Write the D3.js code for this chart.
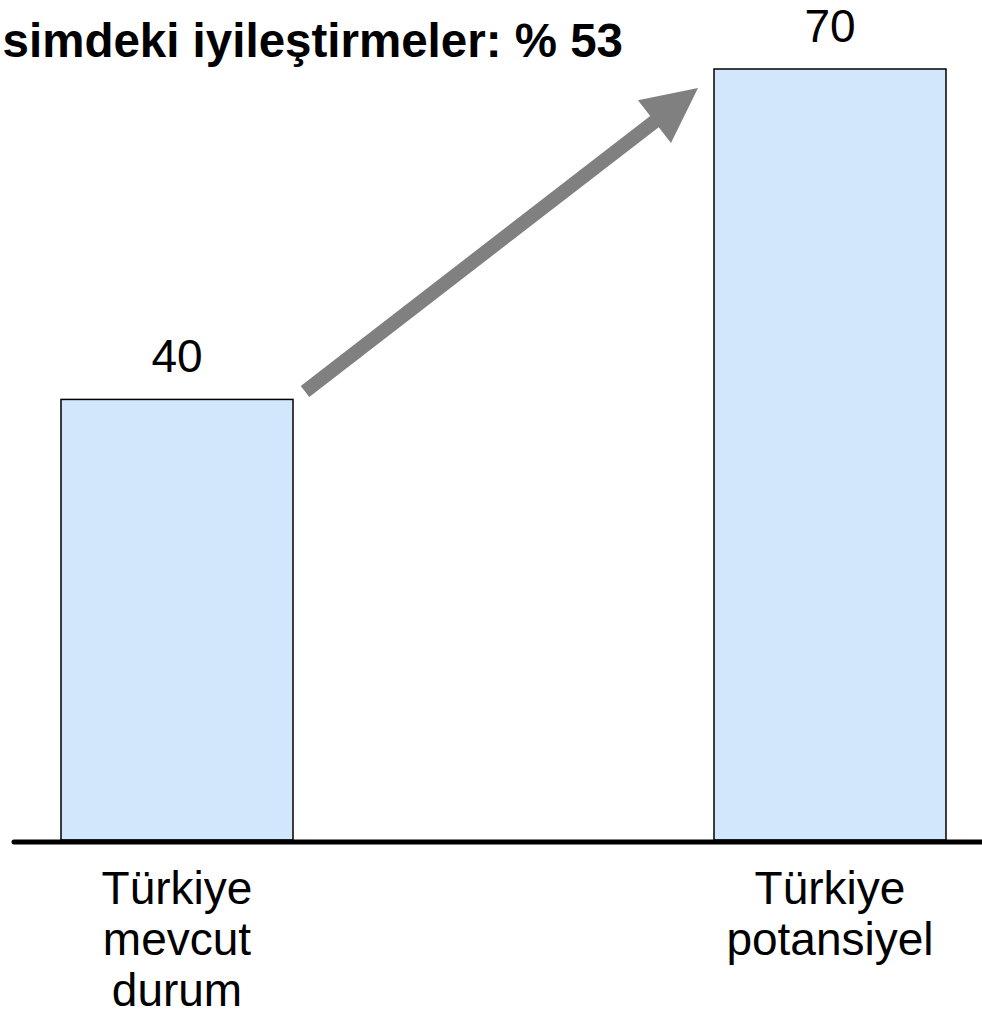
<!DOCTYPE html>
<html><head><meta charset="utf-8">
<script src="https://cdn.jsdelivr.net/npm/d3@7"></script>
<style>html,body{margin:0;padding:0;background:#fff;overflow:hidden}</style>
</head><body>
<script>
const categories = [["Türkiye","mevcut","durum"],["Türkiye","potansiyel"]];
const categoryKeys = ["Türkiye mevcut durum","Türkiye potansiyel"];
const values = [40, 70];
const titleText = "simdeki iyileştirmeler: % 53";

const W = 982, H = 1016;
const svg = d3.select("body").append("svg").attr("width", W).attr("height", H)
  .style("font-family", "'Liberation Sans', Arial, sans-serif");

const x = d3.scaleBand().domain(categoryKeys).range([61, 946]).paddingInner(1 - 232/653).paddingOuter(0);
const y = d3.scaleLinear().domain([0, 70]).range([840, 69]);

// bars
svg.selectAll("rect.bar").data(values).enter().append("rect")
  .attr("class","bar")
  .attr("x", (d,i)=>x(categoryKeys[i]))
  .attr("y", d=>y(d))
  .attr("width", x.bandwidth())
  .attr("height", d=>y(0)-y(d))
  .attr("fill", "#d2e7fc")
  .attr("stroke", "#000")
  .attr("stroke-width", 1.5);

// baseline
svg.append("line").attr("x1", 14).attr("x2", W + 5).attr("y1", y(0)+2).attr("y2", y(0)+2)
  .attr("stroke", "#000").attr("stroke-width", 5).attr("stroke-linecap","round");

// value labels
svg.selectAll("text.val").data(values).enter().append("text")
  .attr("class","val")
  .attr("x", (d,i)=>x(categoryKeys[i]) + x.bandwidth()/2)
  .attr("y", d=>y(d) - 27)
  .attr("text-anchor","middle")
  .attr("font-size", 46)
  .attr("fill","#000")
  .text(d=>d);

// category labels
categories.forEach((lines,i)=>{
  const t = svg.append("text")
    .attr("x", x(categoryKeys[i]) + x.bandwidth()/2)
    .attr("y", y(0) + 64)
    .attr("text-anchor","middle")
    .attr("font-size", 46)
    .attr("fill","#000");
  lines.forEach((ln,j)=>{
    t.append("tspan").attr("x", x(categoryKeys[i]) + x.bandwidth()/2)
      .attr("dy", j===0 ? 0 : 51).text(ln);
  });
});

// title
svg.append("text").attr("x", 623).attr("y", 57).attr("text-anchor","end")
  .attr("font-size", 47.5).attr("font-weight","bold").attr("fill","#000").text(titleText);

// arrow from bar 1 to bar 2
const tail = [x(categoryKeys[0]) + x.bandwidth() + 12, y(values[0]) - 8];
const tip = [x(categoryKeys[1]) - 16, y(values[1]) + 19];
const dx = tip[0]-tail[0], dy = tip[1]-tail[1];
const L = Math.hypot(dx,dy);
const ux = dx/L, uy = dy/L, px = -uy, py = ux;
const sw = 7, hw = 27, hl = 55;
const base = [tip[0]-ux*hl, tip[1]-uy*hl];
const pts = [
  [tail[0]+px*sw, tail[1]+py*sw],
  [base[0]+px*sw, base[1]+py*sw],
  [base[0]+px*hw, base[1]+py*hw],
  tip,
  [base[0]-px*hw, base[1]-py*hw],
  [base[0]-px*sw, base[1]-py*sw],
  [tail[0]-px*sw, tail[1]-py*sw]
];
svg.append("path").attr("d", d3.line()(pts) + "Z").attr("fill", "#808080");
</script>
</body></html>
